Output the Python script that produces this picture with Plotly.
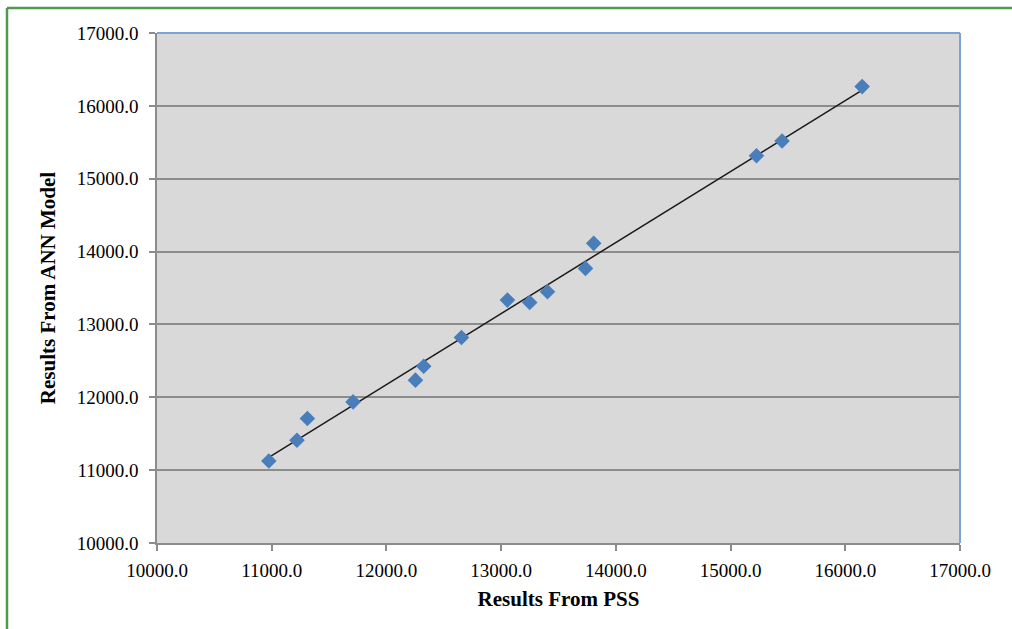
import numpy as np
import plotly.graph_objects as go

pss = [10975, 11220, 11311, 11709, 12253, 12325, 12654, 13055, 13249, 13404, 13735, 13807, 15226, 15449, 16147]
ann = [11125, 11411, 11709, 11937, 12235, 12427, 12821, 13334, 13302, 13448, 13769, 14113, 15316, 15518, 16264]

x_title = "Results From PSS"
y_title = "Results From ANN Model"
tick_vals = [10000, 11000, 12000, 13000, 14000, 15000, 16000, 17000]

slope, intercept = np.polyfit(pss, ann, 1)
tx = [min(pss), max(pss)]
ty = [slope * v + intercept for v in tx]

fig = go.Figure()
fig.add_trace(go.Scatter(x=tx, y=ty, mode="lines",
                         line=dict(color="#1a1a1a", width=1.5), hoverinfo="skip"))
fig.add_trace(go.Scatter(x=pss, y=ann, mode="markers",
                         marker=dict(symbol="diamond", size=12, color="#4A7EBB")))

W, H = 1012, 629
L, R, T, B = 157, 52, 33, 86
fig.update_layout(
    width=W, height=H,
    margin=dict(l=L, r=R, t=T, b=B),
    paper_bgcolor="white", plot_bgcolor="#D9D9D9",
    showlegend=False,
    font=dict(family="Liberation Serif", size=19, color="black"),
    xaxis=dict(range=[10000, 17000], tickvals=tick_vals, tickformat=".1f",
               showgrid=False, zeroline=False, showline=True, linecolor="#8C8C8C", linewidth=1.5,
               ticks="outside", ticklen=6, tickcolor="#8C8C8C", tickwidth=1.5,
               tickfont=dict(size=19), ticklabelstandoff=3,
               title=dict(text="<b>" + x_title + "</b>", font=dict(size=21), standoff=12)),
    yaxis=dict(range=[10000, 17000], tickvals=tick_vals, tickformat=".1f",
               showgrid=True, gridcolor="#8C8C8C", gridwidth=1.5, zeroline=False,
               showline=True, linecolor="#8C8C8C", linewidth=1.5,
               ticks="outside", ticklen=6, tickcolor="#8C8C8C", tickwidth=1.5,
               tickfont=dict(size=19), ticklabelstandoff=7,
               title=dict(text="<b>" + y_title + "</b>", font=dict(size=21), standoff=15)),
)

pw, ph = W - L - R, H - T - B
def px(x):
    return (x - L) / pw
def py(y):
    return (H - B - y) / ph

shapes = [
    dict(type="line", xref="paper", yref="paper", x0=0, x1=1, y0=1, y1=1,
         line=dict(color="#7BA3D6", width=2)),
    dict(type="line", xref="paper", yref="paper", x0=1, x1=1, y0=0, y1=1,
         line=dict(color="#7BA3D6", width=2)),
    dict(type="line", xref="paper", yref="paper", x0=px(7), x1=px(1015), y0=py(8), y1=py(8),
         line=dict(color="#4E9A4E", width=2.5)),
    dict(type="line", xref="paper", yref="paper", x0=px(7), x1=px(7), y0=py(8), y1=py(640),
         line=dict(color="#4E9A4E", width=2.5)),
]
fig.update_layout(shapes=shapes)
fig.write_html("out.html", config={"displayModeBar": False},
               post_script="document.body.style.margin='0';document.body.style.overflow='hidden';")
